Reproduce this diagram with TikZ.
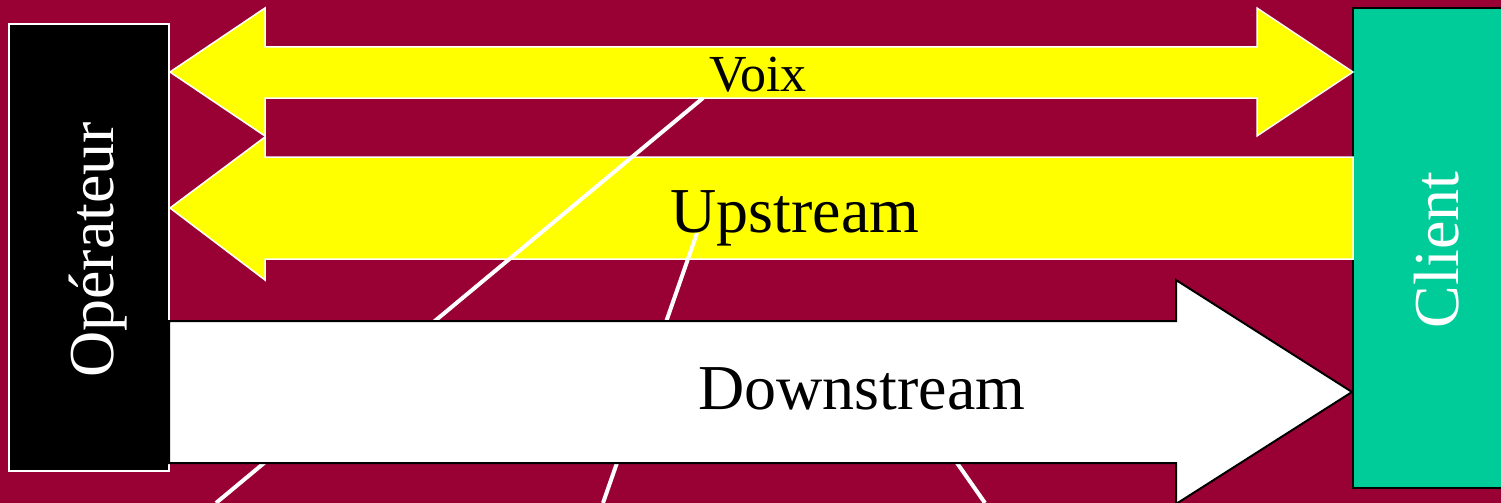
\documentclass[tikz,border=0pt]{standalone}
\usepackage{fontspec}
\setmainfont{Liberation Serif}
\definecolor{bgred}{RGB}{153,0,51}
\definecolor{flowyellow}{RGB}{255,255,0}
\definecolor{clientgreen}{RGB}{0,204,153}
\begin{document}
\begin{tikzpicture}[x=1pt,y=-1pt,
  yellowarrow/.style={fill=flowyellow,draw=white,line width=1.5pt,line join=miter},
  whitearrow/.style={fill=white,draw=black,line width=2pt,line join=miter},
  callout/.style={draw=white,line width=4pt},
  bigtext/.style={font=\fontsize{64}{64}\selectfont,inner sep=0pt,anchor=base},
  sidetext/.style={font=\fontsize{64}{64}\selectfont,inner sep=0pt,anchor=base,rotate=90,text=white}]
\useasboundingbox (0,0) rectangle (1501,503);
\clip (0,0) rectangle (1501,503);
\fill[bgred] (0,0) rectangle (1501,503);
% boxes
\draw[fill=black,draw=white,line width=1.5pt] (9,24) rectangle (169,471);
\draw[fill=clientgreen,draw=black,line width=2pt] (1353,8) rectangle (1512,488);
% Voix double arrow
\draw[yellowarrow] (170,72) -- (265,8) -- (265,47) -- (1257,47) -- (1257,8) -- (1353,72)
  -- (1257,136) -- (1257,98) -- (265,98) -- (265,136) -- cycle;
% Upstream arrow
\draw[yellowarrow] (170,208) -- (265,137) -- (265,157) -- (1353,157) -- (1353,259)
  -- (265,259) -- (265,280) -- cycle;
% callout lines
\coordinate (voixfoot) at (703,98);
\coordinate (voixend) at (216,503);
\coordinate (upfoot) at (697,233);
\coordinate (upend) at (603,503);
\coordinate (downfoot) at (920,410);
\coordinate (downend) at (985,503);
\draw[callout] (voixfoot) -- (voixend);
\draw[callout] (upfoot) -- (upend);
\draw[callout] (downfoot) -- (downend);
% Downstream arrow
\draw[whitearrow] (169,321) -- (1176,321) -- (1176,280) -- (1352,392) -- (1176,504)
  -- (1176,463) -- (169,463) -- cycle;
% labels
\node[bigtext,font=\fontsize{52}{52}\selectfont] (voix) at (758,92) {Voix};
\node[bigtext] (up) at (795,232) {Upstream};
\node[bigtext] (down) at (862,409) {Downstream};
\node[sidetext] (oper) at (113,250) {Opérateur};
\node[sidetext] (client) at (1458,250) {Client};
\end{tikzpicture}
\end{document}
